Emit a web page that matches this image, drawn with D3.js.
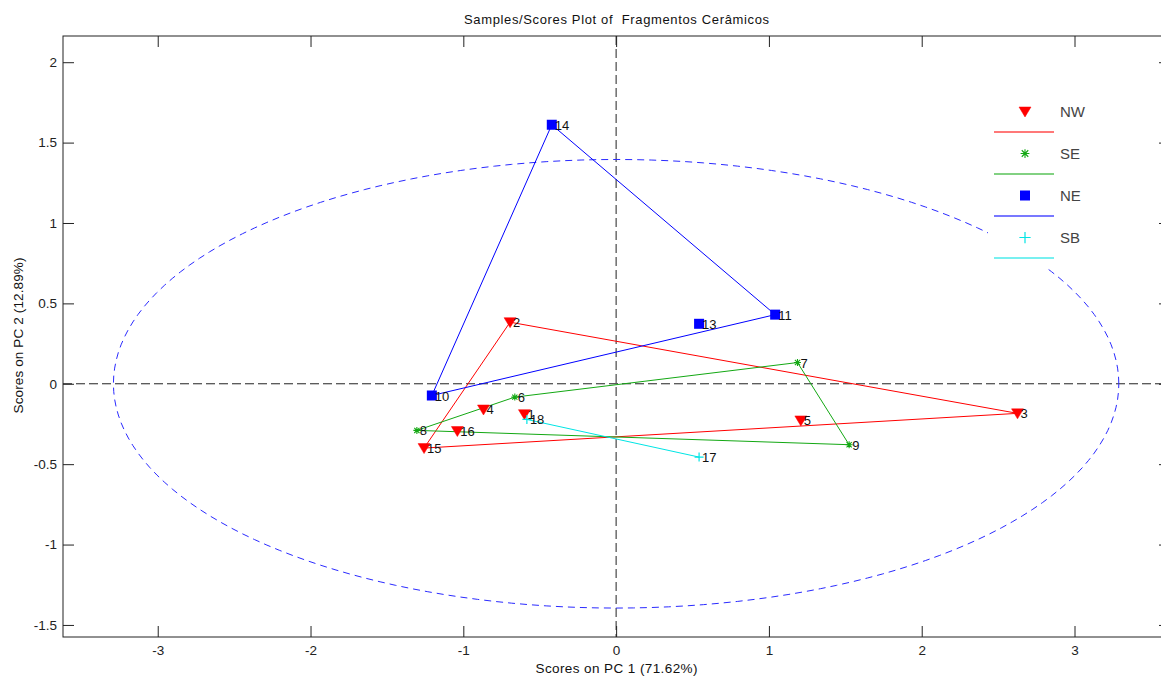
<!DOCTYPE html>
<html>
<head>
<meta charset="utf-8">
<script src="https://cdn.jsdelivr.net/npm/d3@7"></script>
<style>
  html, body { margin: 0; padding: 0; background: #fff; }
  svg { display: block; font-family: "Liberation Sans", Arial, sans-serif; }
</style>
</head>
<body>
<svg id="chart" width="1161" height="677"></svg>
<script>
// ---- data ----
const titleText = "Samples/Scores Plot of  Fragmentos Cerâmicos";
const xLabelText = "Scores on PC 1 (71.62%)";
const yLabelText = "Scores on PC 2 (12.89%)";
const xTicks = [-3, -2, -1, 0, 1, 2, 3];
const yTicks = [-1.5, -1, -0.5, 0, 0.5, 1, 1.5, 2];
const groupNames = ["NW", "SE", "NE", "SB"];

const nwIds = ["1", "2", "3", "4", "5", "15", "16"];
const nwPC1 = [-0.600, -0.694, 2.627, -0.868, 1.209, -1.257, -1.039];
const nwPC2 = [-0.189, 0.383, -0.184, -0.160, -0.228, -0.400, -0.294];

const seIds = ["6", "7", "8", "9"];
const sePC1 = [-0.663, 1.187, -1.304, 1.525];
const sePC2 = [-0.083, 0.132, -0.290, -0.379];

const neIds = ["10", "11", "13", "14"];
const nePC1 = [-1.206, 1.041, 0.543, -0.421];
const nePC2 = [-0.073, 0.430, 0.373, 1.611];

const sbIds = ["17", "18"];
const sbPC1 = [0.543, -0.584];
const sbPC2 = [-0.456, -0.222];

// 95% confidence ellipse semi-axes
const ellipseA = 3.29;
const ellipseB = 1.395;

// ---- setup ----
const svg = d3.select("#chart");
const pLeft = 63, pRight = 1170, pTop = 36, pBottom = 637;
const x = d3.scaleLinear().domain([-3.62, 3.625]).range([pLeft, pRight]);
const y = d3.scaleLinear().domain([-1.575, 2.163]).range([pBottom, pTop]);

const groups = [
  { name: "NW", ids: nwIds, px: nwPC1, py: nwPC2, color: "#ff0000", marker: "tri" },
  { name: "SE", ids: seIds, px: sePC1, py: sePC2, color: "#13a813", marker: "star" },
  { name: "NE", ids: neIds, px: nePC1, py: nePC2, color: "#0000ff", marker: "square" },
  { name: "SB", ids: sbIds, px: sbPC1, py: sbPC2, color: "#00e5e5", marker: "plus" }
];

svg.append("rect").attr("x", 0).attr("y", 0).attr("width", 1161).attr("height", 677).attr("fill", "#fff");

const clip = svg.append("defs").append("clipPath").attr("id", "clip");
clip.append("rect").attr("x", pLeft).attr("y", pTop).attr("width", pRight - pLeft).attr("height", pBottom - pTop);

const plot = svg.append("g").attr("clip-path", "url(#clip)");

// zero lines
plot.append("line").attr("x1", x(0)).attr("x2", x(0)).attr("y1", pTop).attr("y2", pBottom)
  .attr("stroke", "#222").attr("stroke-width", 1).attr("stroke-dasharray", "9,4");
plot.append("line").attr("x1", pLeft).attr("x2", pRight).attr("y1", y(0)).attr("y2", y(0))
  .attr("stroke", "#222").attr("stroke-width", 1).attr("stroke-dasharray", "9,4");

// ellipse
const ellPts = d3.range(0, 361, 2).map(a => {
  const t = a * Math.PI / 180;
  return [x(ellipseA * Math.cos(t)), y(ellipseB * Math.sin(t))];
});
plot.append("path").attr("d", d3.line()(ellPts)).attr("fill", "none")
  .attr("stroke", "#2a2aff").attr("stroke-width", 1).attr("stroke-dasharray", "7,5");

// hull lines
groups.forEach(g => {
  const pts = g.px.map((v, i) => [v, g.py[i]]);
  let poly;
  if (pts.length >= 3) {
    const h = d3.polygonHull(pts);
    poly = h.concat([h[0]]);
  } else {
    poly = pts;
  }
  plot.append("path")
    .attr("d", d3.line().x(d => x(d[0])).y(d => y(d[1]))(poly))
    .attr("fill", "none").attr("stroke", g.color).attr("stroke-width", 1);
});

function drawMarker(sel, type, color, cx, cy, k) {
  k = k || 1;
  if (type === "tri") {
    sel.append("path").attr("d", `M${cx - 6 * k},${cy - 4.5 * k}L${cx + 6 * k},${cy - 4.5 * k}L${cx},${cy + 5.5 * k}Z`)
      .attr("fill", color).attr("stroke", color).attr("stroke-width", 0.5);
  } else if (type === "square") {
    sel.append("rect").attr("x", cx - 5 * k).attr("y", cy - 5 * k).attr("width", 10 * k).attr("height", 10 * k)
      .attr("fill", color);
  } else if (type === "star") {
    const r = 3.5 * k, d = 2.6 * k;
    sel.append("path").attr("d",
      `M${cx - r},${cy}L${cx + r},${cy}M${cx},${cy - r}L${cx},${cy + r}M${cx - d},${cy - d}L${cx + d},${cy + d}M${cx - d},${cy + d}L${cx + d},${cy - d}`)
      .attr("stroke", color).attr("stroke-width", 1.1).attr("fill", "none");
  } else if (type === "plus") {
    const r = 4.5 * k;
    sel.append("path").attr("d", `M${cx - r},${cy}L${cx + r},${cy}M${cx},${cy - r}L${cx},${cy + r}`)
      .attr("stroke", color).attr("stroke-width", 1.2).attr("fill", "none");
  }
}

// markers
groups.forEach(g => {
  g.px.forEach((v, i) => drawMarker(plot, g.marker, g.color, x(v), y(g.py[i])));
});
// labels
groups.forEach(g => {
  g.px.forEach((v, i) => {
    plot.append("text").attr("x", x(v) + 3).attr("y", y(g.py[i]) + 5)
      .attr("font-size", 13).attr("fill", "#111").text(g.ids[i]);
  });
});

// axes box
svg.append("rect").attr("x", pLeft).attr("y", pTop).attr("width", pRight - pLeft).attr("height", pBottom - pTop)
  .attr("fill", "none").attr("stroke", "#222").attr("stroke-width", 1);

const tickLen = 11;
const fmt = d => String(d);
const axB = d3.axisBottom(x).tickValues(xTicks).tickSize(-tickLen).tickPadding(8).tickFormat(fmt);
const axT = d3.axisTop(x).tickValues(xTicks).tickSize(-tickLen).tickFormat("");
const axL = d3.axisLeft(y).tickValues(yTicks).tickSize(-tickLen).tickPadding(6).tickFormat(fmt);
const axR = d3.axisRight(y).tickValues(yTicks).tickSize(-tickLen).tickFormat("");

function styleAxis(g) {
  g.select(".domain").remove();
  g.selectAll(".tick line").attr("stroke", "#222");
  g.selectAll(".tick text").attr("fill", "#222").attr("font-size", 13.5)
    .attr("font-family", "'Liberation Sans', Arial, sans-serif");
}
svg.append("g").attr("transform", `translate(0,${pBottom})`).call(axB).call(styleAxis);
svg.append("g").attr("transform", `translate(0,${pTop})`).call(axT).call(styleAxis);
svg.append("g").attr("transform", `translate(${pLeft},0)`).call(axL).call(styleAxis);
svg.append("g").attr("transform", `translate(${pRight},0)`).call(axR).call(styleAxis);

// titles
svg.append("text").attr("x", (pLeft + pRight) / 2).attr("y", 24).attr("text-anchor", "middle")
  .style("white-space", "pre").attr("xml:space", "preserve")
  .attr("font-size", 13).attr("fill", "#111")
  .attr("textLength", 305).attr("lengthAdjust", "spacing").text(titleText);
svg.append("text").attr("x", (pLeft + pRight) / 2).attr("y", 673).attr("text-anchor", "middle")
  .attr("font-size", 13.5).attr("fill", "#111")
  .attr("textLength", 162).attr("lengthAdjust", "spacing").text(xLabelText);
svg.append("text").attr("transform", `translate(23,${(pTop + pBottom) / 2 - 1}) rotate(-90)`)
  .attr("text-anchor", "middle").attr("font-size", 13.5).attr("fill", "#111")
  .attr("textLength", 156).attr("lengthAdjust", "spacing").text(yLabelText);

// legend
const leg = svg.append("g");
leg.append("rect").attr("x", 988).attr("y", 90).attr("width", 125).attr("height", 177).attr("fill", "#fff");
groups.forEach((g, i) => {
  const cy = 111.5 + i * 42;
  drawMarker(leg, g.marker, g.color, 1025, cy, g.marker === "star" || g.marker === "plus" ? 1.25 : 1);
  leg.append("text").attr("x", 1060).attr("y", cy + 5.5).attr("font-size", 15).attr("fill", "#444").text(groupNames[i]);
  leg.append("line").attr("x1", 994).attr("x2", 1054).attr("y1", cy + 20.5).attr("y2", cy + 20.5)
    .attr("stroke", g.color).attr("stroke-width", 1.3).attr("opacity", 0.7);
});
</script>
</body>
</html>
